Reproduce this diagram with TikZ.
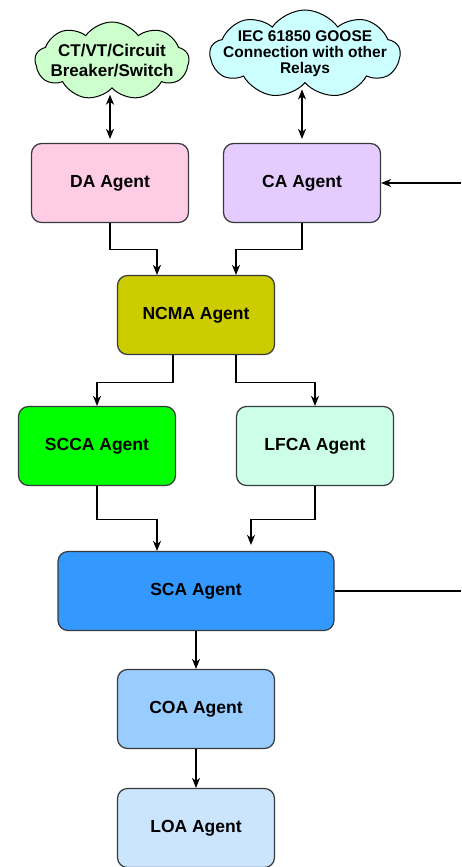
\documentclass[tikz,border=0pt]{standalone}
\usepackage{fontspec}
\setmainfont{Liberation Sans}
\usepackage{xcolor}
\usepackage{tikz}
\usetikzlibrary{arrows.meta,positioning,shapes.symbols}
\definecolor{edgegray}{HTML}{36393D}
\definecolor{daPink}{HTML}{FFCCE6}
\definecolor{caLilac}{HTML}{E5CCFF}
\definecolor{ncmaOlive}{HTML}{CCCC00}
\definecolor{sccaGreen}{HTML}{00FF00}
\definecolor{lfcaMint}{HTML}{CCFFE6}
\definecolor{scaBlue}{HTML}{3399FF}
\definecolor{coaBlue}{HTML}{99CCFF}
\definecolor{loaBlue}{HTML}{CCE5FF}
\definecolor{ctvtGreen}{HTML}{CCFFCC}
\definecolor{gooseCyan}{HTML}{CCFFFF}

\begin{document}
\begin{tikzpicture}[x=1pt, y=-1pt,
agent/.style = {draw=edgegray, line width=1.2pt, rectangle, rounded corners=10pt, minimum width=157pt, minimum height=79pt, font=\fontsize{17.5}{21}\selectfont\bfseries},
cloudbox/.style = {draw=black, line width=1pt, cloud, cloud puffs=9, cloud puff arc=110, cloud ignores aspect, inner sep=0pt},
cloudtext/.style = {align=center, inner sep=0pt},
wire/.style = {line width=1.2pt, black},
auto,
node distance = 2cm,
>={Stealth[length=10pt, width=8pt, inset=3pt]}
]
    \useasboundingbox (0,0) rectangle (461,867);

    \node [cloudbox, fill=ctvtGreen, minimum width=154pt, minimum height=78pt,
           label={[cloudtext, font=\fontsize{17}{20}\selectfont\bfseries]center:CT/VT/Circuit\\Breaker/Switch}] (ctvt) at (112,61) {};
    \node [cloudbox, fill=gooseCyan, minimum width=190pt, minimum height=88pt,
           label={[cloudtext, font=\fontsize{15.5}{16}\selectfont\bfseries]center:IEC 61850 GOOSE\\Connection with other\\Relays}] (goose) at (305,54) {};

    \node [agent, fill=daPink] (da) at (110,183) {DA Agent};
    \node [agent, fill=caLilac, right of=da, node distance=192pt] (ca) {CA Agent};
    \node [agent, fill=ncmaOlive] (ncma) at (196,315) {NCMA Agent};
    \node [agent, fill=sccaGreen] (scca) at (97,446) {SCCA Agent};
    \node [agent, fill=lfcaMint, right of=scca, node distance=218pt] (lfca) {LFCA Agent};
    \node [agent, fill=scaBlue, minimum width=276pt] (sca) at (196,591) {SCA Agent};
    \node [agent, fill=coaBlue, below of=sca, node distance=118pt] (coa) {COA Agent};
    \node [agent, fill=loaBlue, below of=coa, node distance=119pt] (loa) {LOA Agent};

    \coordinate (caIn) at (461,183);
    \coordinate (scaOut) at (461,591);

    \draw [wire, <->, shorten <=6pt, shorten >=4pt] (ctvt.south -| da.north) -- (da.north);
    \draw [wire, <->, shorten <=6pt, shorten >=4pt] (goose.south -| ca.north) -- (ca.north);
    \draw [wire, ->] (caIn) -- (ca.east);

    \draw [wire, ->] (da.south) -- ++(0,26) -| ([xshift=-39pt]ncma.north);
    \draw [wire, ->] (ca.south) -- ++(0,26) -| ([xshift=40pt]ncma.north);

    \draw [wire, ->] ([xshift=-23pt]ncma.south) -- ++(0,27) -| (scca.north);
    \draw [wire, ->] ([xshift=40pt]ncma.south) -- ++(0,27) -| (lfca.north);

    \draw [wire, ->] (scca.south) -- ++(0,33) -| ([xshift=-39pt]sca.north);
    \draw [wire, ->] (lfca.south) -- ++(0,33) -| ([xshift=55pt,yshift=6pt]sca.north);

    \draw [wire] (sca.east) -- (scaOut);
    \draw [wire, ->] (sca) -- (coa);
    \draw [wire, ->] (coa) -- (loa);

\end{tikzpicture}
\end{document}
